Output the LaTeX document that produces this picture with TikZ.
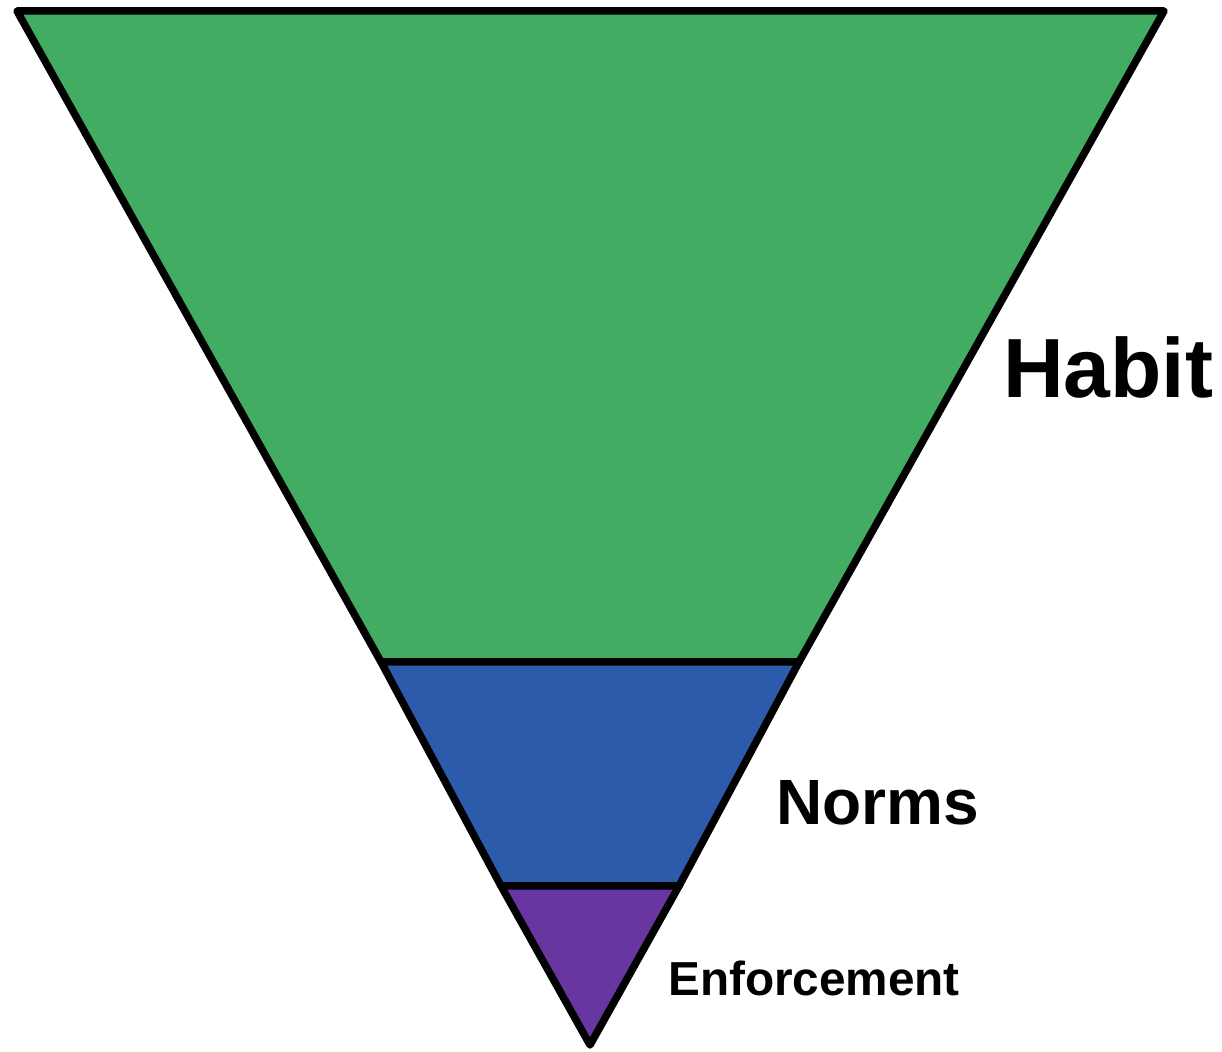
\documentclass[tikz,border=0pt]{standalone}
\usepackage{fontspec}
\setmainfont{Liberation Sans}
\definecolor{habitgreen}{RGB}{65,172,98}
\definecolor{normsblue}{RGB}{45,91,172}
\definecolor{enfpurple}{RGB}{103,54,161}
\begin{document}
\begin{tikzpicture}[x=1pt,y=1pt,
  layer/.style={draw=black,line width=7.5pt,line join=round},
  lbl/.style={anchor=base west,inner sep=0pt,font=\bfseries}]
\useasboundingbox (0,0) rectangle (1222,1051);
% funnel layers, top to bottom
\filldraw[layer,fill=habitgreen] (17,1040) -- (1164,1040) -- (799,389) -- (381,389) -- cycle;
\filldraw[layer,fill=normsblue] (381,389) -- (799,389) -- (679,165) -- (501,165) -- cycle;
\filldraw[layer,fill=enfpurple] (501,165) -- (679,165) -- (590,6) -- cycle;
% labels
\node[lbl,font=\fontsize{84}{90}\selectfont\bfseries] (habit) at (1003,653) {Habit};
\node[lbl,font=\fontsize{64}{70}\selectfont\bfseries] (norms) at (776,226) {Norms};
\node[lbl,font=\fontsize{47.7}{54}\selectfont\bfseries] (enf) at (668,56) {Enforcement};
\end{tikzpicture}
\end{document}
